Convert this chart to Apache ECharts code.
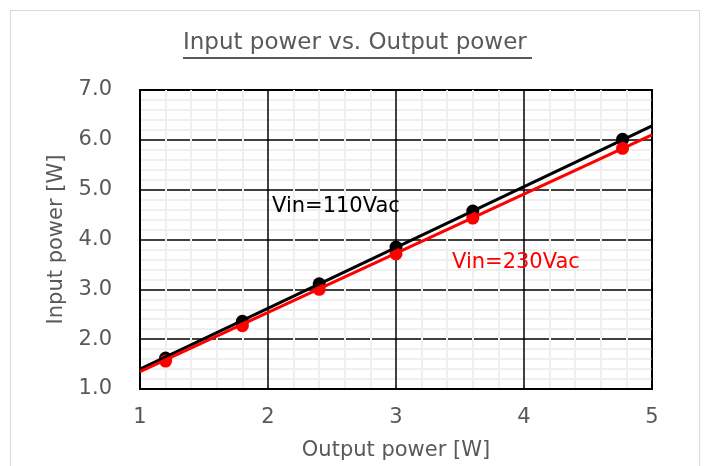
<!DOCTYPE html>
<html>
<head>
<meta charset="utf-8">
<script src="https://cdn.jsdelivr.net/npm/echarts@6/dist/echarts.min.js"></script>
<style>
  html, body { margin: 0; padding: 0; background: #fff; }
  #chart { width: 709px; height: 466px; }
</style>
</head>
<body>
<div id="chart"></div>
<script>
// measured points
const outputPower = [1.2, 1.8, 2.4, 3.0, 3.6, 4.77];
const input110 = [1.62, 2.36, 3.11, 3.85, 4.57, 6.01];
const input230 = [1.56, 2.27, 3.0, 3.71, 4.43, 5.83];
// trend lines, read at x = 1 and x = 5
const trendX = [1, 5];
const trend110 = [1.40, 6.28];
const trend230 = [1.35, 6.10];

const gray = "#595959";
const font = "DejaVu Sans";

const pairs = (xs, ys) => xs.map((x, i) => [x, ys[i]]);

const chart = echarts.init(document.getElementById("chart"));
chart.setOption({
  animation: false,
  textStyle: { fontFamily: font },
  grid: {
    left: 140, right: 57, top: 90, bottom: 77,
    show: true, borderColor: "#000", borderWidth: 2,
  },
  xAxis: {
    type: "value",
    min: 1, max: 5, interval: 1,
    name: "Output power [W]",
    nameLocation: "middle",
    nameGap: 51,
    nameTextStyle: { color: gray, fontSize: 21, fontFamily: font },
    axisLine: { lineStyle: { color: "#000", width: 2 } },
    axisTick: { show: false },
    axisLabel: { color: gray, fontSize: 21, margin: 18 },
    splitLine: { lineStyle: { color: "#000", width: 1.5 } },
    minorTick: { show: false, splitNumber: 5 },
    minorSplitLine: { show: true, lineStyle: { color: "#efefef", width: 2 } },
  },
  yAxis: {
    type: "value",
    min: 1, max: 7, interval: 1,
    name: "Input power [W]",
    nameLocation: "middle",
    nameGap: 73,
    nameTextStyle: { color: gray, fontSize: 21, fontFamily: font },
    axisLine: { show: true, lineStyle: { color: "#000", width: 2 } },
    axisTick: { show: false },
    axisLabel: { color: gray, fontSize: 21, margin: 28, formatter: (v) => v.toFixed(1) },
    splitLine: { lineStyle: { color: "#000", width: 1.5 } },
    minorTick: { show: false, splitNumber: 5 },
    minorSplitLine: { show: true, lineStyle: { color: "#efefef", width: 2 } },
  },
  graphic: [
    {
      type: "rect", silent: true, z: -10,
      shape: { x: 10.5, y: 10.5, width: 689, height: 480 },
      style: { fill: "#fff", stroke: "#d9d9d9", lineWidth: 1 },
    },
    {
      type: "text", left: 183, top: 32,
      style: { text: "Input power vs. Output power", fill: gray, font: "23px " + font },
    },
    {
      type: "line", silent: true,
      shape: { x1: 183, y1: 58, x2: 532, y2: 58 },
      style: { stroke: gray, lineWidth: 2 },
    },
    {
      type: "text", left: 272, top: 196, z: 10,
      style: { text: "Vin=110Vac", fill: "#000", font: "21px " + font },
    },
    {
      type: "text", left: 452, top: 252, z: 10,
      style: { text: "Vin=230Vac", fill: "#ff0000", font: "21px " + font },
    },
  ],
  series: [
    {
      name: "trend 110Vac", type: "line",
      data: pairs(trendX, trend110),
      showSymbol: false,
      lineStyle: { color: "#000", width: 3 },
    },
    {
      name: "Vin=110Vac", type: "scatter",
      data: pairs(outputPower, input110),
      symbolSize: 13,
      itemStyle: { color: "#000", opacity: 1 },
    },
    {
      name: "trend 230Vac", type: "line",
      data: pairs(trendX, trend230),
      showSymbol: false,
      lineStyle: { color: "#ff0000", width: 3 },
    },
    {
      name: "Vin=230Vac", type: "scatter",
      data: pairs(outputPower, input230),
      symbolSize: 13,
      itemStyle: { color: "#ff0000", opacity: 1 },
    },
  ],
});
</script>
</body>
</html>
